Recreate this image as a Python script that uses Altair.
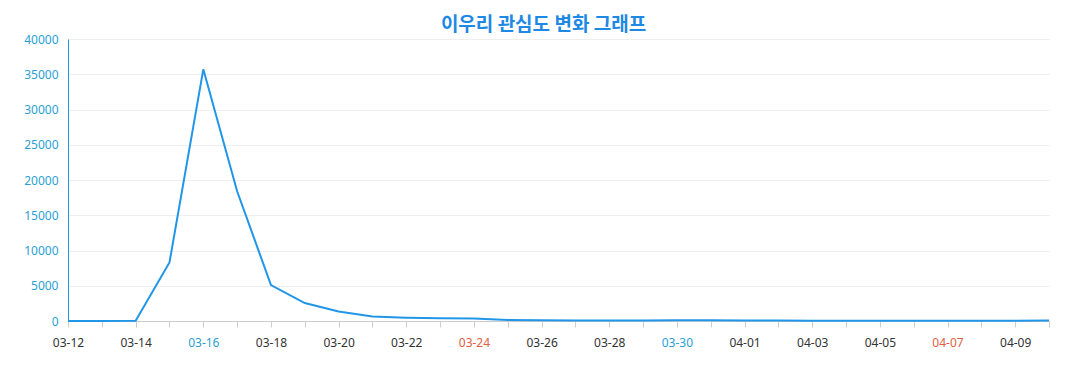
import altair as alt
import pandas as pd

dates = ["03-12", "03-13", "03-14", "03-15", "03-16", "03-17", "03-18", "03-19",
         "03-20", "03-21", "03-22", "03-23", "03-24", "03-25", "03-26", "03-27",
         "03-28", "03-29", "03-30", "03-31", "04-01", "04-02", "04-03", "04-04",
         "04-05", "04-06", "04-07", "04-08", "04-09", "04-10"]
values = [0, 0, 30, 8300, 35700, 18400, 5100, 2550, 1350, 650, 470, 380, 360, 150,
          120, 60, 60, 60, 120, 90, 80, 60, 50, 40, 30, 40, 40, 30, 50, 60]

label_dates = dates[::2]
blue_dates = ["03-16", "03-30"]
red_dates = ["03-24", "04-07"]

df = pd.DataFrame({"date": dates, "value": values})

label_list = ",".join("'%s'" % d for d in label_dates)
blue_test = " || ".join("datum.value == '%s'" % d for d in blue_dates)
red_test = " || ".join("datum.value == '%s'" % d for d in red_dates)

chart = alt.Chart(df).mark_line(color="#2196e8", strokeWidth=2).encode(
    x=alt.X("date:O", sort=dates, title=None,
            scale=alt.Scale(type="point", padding=0),
            axis=alt.Axis(labelAngle=0, labelOverlap=False,
                          labelExpr="indexof([%s], datum.value) >= 0 ? datum.value : ''" % label_list,
                          labelColor={"expr": "(%s) ? '#2a9fd6' : ((%s) ? '#e0603f' : '#333333')" % (blue_test, red_test)},
                          labelFont="Noto Sans", labelFontSize=12, labelPadding=10,
                          domainColor="#cccccc", tickColor="#cccccc", tickSize=6,
                          grid=False)),
    y=alt.Y("value:Q", title=None,
            scale=alt.Scale(domain=[0, 40000], nice=False),
            axis=alt.Axis(values=list(range(0, 40001, 5000)), format="d",
                          labelColor="#2a9fd6", labelFont="Noto Sans", labelFontSize=12,
                          domainColor="#2196e8", tickSize=0, labelPadding=10,
                          gridColor="#eeeeee", domain=True)),
).properties(
    width=981, height=282,
    padding={"left": 15, "top": 8, "right": 5, "bottom": 5},
    title=alt.TitleParams("이우리 관심도 변화 그래프", font="Noto Sans CJK KR",
                          fontSize=19, fontWeight="bold", color="#1e88e5",
                          anchor="middle", offset=-2, dx=-15),
).configure_view(stroke=None)

chart.save("out.html", embed_options={"renderer": "svg", "actions": False})
